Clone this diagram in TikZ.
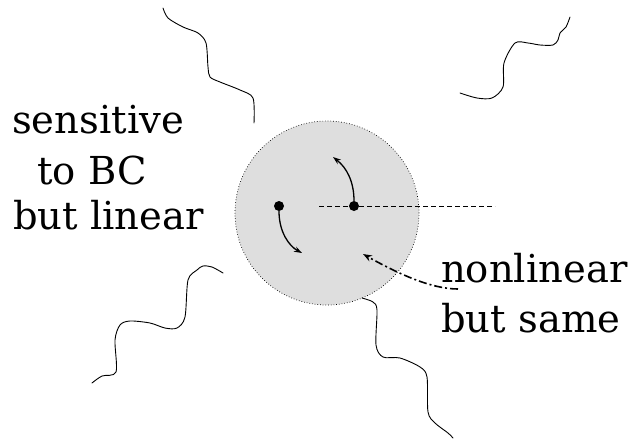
\documentclass[tikz,border=0pt]{standalone}
\usepackage{fontspec}
\setmainfont{DejaVu Serif}
\usetikzlibrary{arrows.meta}
\begin{document}
\begin{tikzpicture}[x=1pt,y=-1pt,
  lbl/.style={anchor=base west,inner sep=0pt,font=\fontsize{38.5}{46}\selectfont},
  wave/.style={line width=0.9pt,line join=round,line cap=round},
  blob/.style={circle,draw,dotted,line width=0.7pt,fill=black!13,minimum size=184pt,inner sep=0pt},
  dotn/.style={circle,fill=black,minimum size=10pt,inner sep=0pt},
  curv/.style={line width=1.3pt,-{Stealth[length=8pt,width=5.5pt]}}]
\useasboundingbox (0,0) rectangle (637,440);
% region
\node[blob] (reg) at (327,213) {};
% dashed axis
\coordinate (ax0) at (319,206);
\coordinate (ax1) at (495,206);
\draw[dash pattern=on 5pt off 3pt,line width=0.7pt] (ax0) -- (ax1);
% points
\node[dotn] (d1) at (279,206) {};
\node[dotn] (d2) at (354,206) {};
\coordinate (t1) at (302,253);
\coordinate (t2) at (333,157);
\draw[curv] (d2) .. controls (354,182) and (347,168) .. (t2);
\draw[curv] (d1) .. controls (279,232) and (289,246) .. (t1);
% dash-dot arrow
\coordinate (s0) at (458,289);
\coordinate (t3) at (363,254);
\draw[line width=1.6pt,dash pattern=on 8pt off 3pt on 2pt off 3pt,-{Stealth[length=9pt,width=6.5pt]}]
  (s0) .. controls (430,289) and (395,272) .. (t3);
% wavy boundaries
\draw[wave] plot[smooth,tension=0.5] coordinates {(163,8) (168,18) (183,27) (198,33) (206,43) (208,67) (210,77) (220,82) (240,90) (253,98) (254,123)};
\draw[wave] plot[smooth,tension=0.5] coordinates {(460,93) (477,98) (492,98) (503,87) (504,63) (515,43) (528,43) (540,45) (553,45) (558,40) (560,33) (566,27) (570,17)};
\draw[wave] plot[smooth,tension=0.5] coordinates {(92,383) (102,376) (116,372) (115,340) (120,325) (130,321) (150,323) (165,328) (177,328) (185,317) (188,280) (197,270) (203,266) (212,267) (223,273)};
\draw[wave] plot[smooth,tension=0.5] coordinates {(362,298) (373,302) (377,310) (376,345) (383,357) (400,358) (420,367) (427,377) (428,412) (435,423) (448,433) (453,438)};
% labels
\node[lbl] (s1) at (12,133) {sensitive};
\node[lbl] (s2) at (37,184) {to BC};
\node[lbl] (s3) at (13,229) {but linear};
\node[lbl] (n1) at (441,282) {nonlinear};
\node[lbl] (n2) at (441,332) {but same};
\end{tikzpicture}
\end{document}
